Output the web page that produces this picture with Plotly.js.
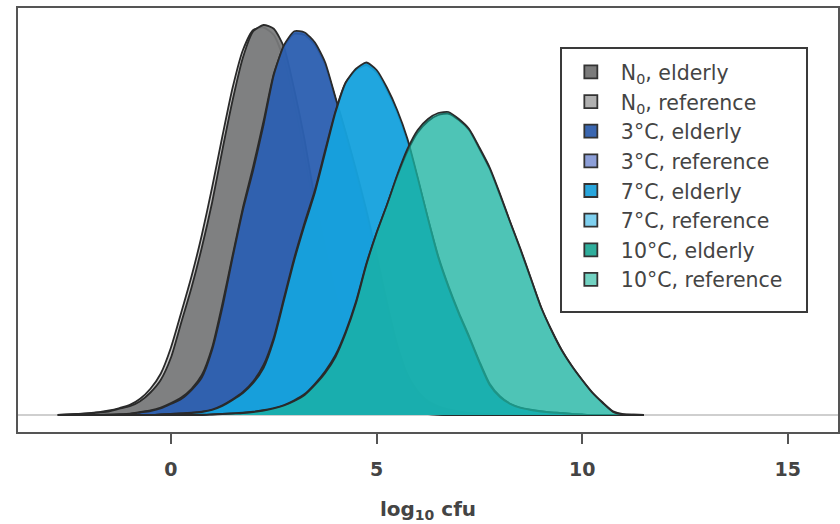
<!DOCTYPE html>
<html>
<head>
<meta charset="utf-8">
<script src="https://cdn.plot.ly/plotly-3.0.1.min.js"></script>
<style>html,body{margin:0;padding:0;background:#fff;}#chart{width:840px;height:524px;}</style>
</head>
<body>
<div id="chart"></div>
<script>
// shared grid of log10 cfu values (-2.75 .. 11.5, step 0.25)
const logCfu = [-2.75,-2.5,-2.25,-2,-1.75,-1.5,-1.25,-1,-0.75,-0.5,-0.25,0,0.25,0.5,0.75,1,1.25,1.5,1.75,2,2.25,2.5,2.75,3,3.25,3.5,3.75,4,4.25,4.5,4.75,5,5.25,5.5,5.75,6,6.25,6.5,6.75,7,7.25,7.5,7.75,8,8.25,8.5,8.75,9,9.25,9.5,9.75,10,10.25,10.5,10.75,11,11.25,11.5];

const seriesNames = ["N<sub>0</sub>, elderly","N<sub>0</sub>, reference","3°C, elderly","3°C, reference","7°C, elderly","7°C, reference","10°C, elderly","10°C, reference"];

const n0Elderly = [0,0.0004,0.0008,0.0012,0.002,0.003,0.005,0.007,0.011,0.018,0.028,0.046,0.074,0.102,0.134,0.170,0.212,0.252,0.286,0.307,0.312,0.309,0.294,0.260,0.220,0.172,0.132,0.096,0.068,0.044,0.028,0.016,0.010,0.006,0.003,0.002,0.001,0.0004,0,0,0,0,0,0,0,0,0,0,0,0,0,0,0,0,0,0,0,0];
const n0Reference = [0.0001,0.0005,0.0009,0.0014,0.0023,0.0036,0.0056,0.0081,0.013,0.021,0.033,0.054,0.082,0.111,0.144,0.182,0.223,0.262,0.292,0.308,0.310,0.304,0.284,0.249,0.207,0.160,0.122,0.088,0.061,0.039,0.025,0.014,0.009,0.005,0.003,0.0015,0.0007,0.0003,0,0,0,0,0,0,0,0,0,0,0,0,0,0,0,0,0,0,0,0];
const c3Elderly = [0,0,0,0,0,0.0002,0.0004,0.0008,0.002,0.0032,0.0052,0.0088,0.0128,0.020,0.030,0.052,0.086,0.126,0.164,0.196,0.232,0.272,0.296,0.307,0.306,0.298,0.282,0.254,0.226,0.196,0.164,0.128,0.090,0.056,0.032,0.018,0.010,0.006,0.004,0.0024,0.0016,0.0008,0.0004,0,0,0,0,0,0,0,0,0,0,0,0,0,0,0];
const c3Reference = [0,0,0,0,0.0001,0.0003,0.0006,0.0011,0.0024,0.0037,0.006,0.0096,0.014,0.021,0.032,0.054,0.089,0.128,0.166,0.199,0.235,0.273,0.295,0.305,0.304,0.296,0.280,0.253,0.225,0.194,0.161,0.125,0.088,0.055,0.032,0.019,0.011,0.007,0.0045,0.0028,0.0017,0.0009,0.0004,0,0,0,0,0,0,0,0,0,0,0,0,0,0,0];
const c7Elderly = [0,0,0,0,0,0,0,0,0,0,0.0004,0.0008,0.0012,0.0016,0.0024,0.004,0.0072,0.012,0.0176,0.0256,0.0376,0.060,0.092,0.124,0.152,0.178,0.210,0.242,0.266,0.277,0.282,0.276,0.262,0.244,0.221,0.190,0.157,0.126,0.102,0.081,0.062,0.042,0.024,0.0144,0.0088,0.0056,0.004,0.0028,0.002,0.0016,0.0008,0.0004,0,0,0,0,0,0];
const c7Reference = [0,0,0,0,0,0,0,0,0,0,0.0005,0.0009,0.0013,0.0018,0.0027,0.0044,0.0078,0.0126,0.0184,0.027,0.040,0.062,0.094,0.126,0.154,0.180,0.212,0.243,0.266,0.276,0.280,0.274,0.260,0.242,0.219,0.189,0.157,0.127,0.103,0.082,0.063,0.043,0.025,0.015,0.009,0.006,0.0042,0.003,0.0021,0.0016,0.0009,0.0004,0,0,0,0,0,0];
const c10Elderly = [0,0,0,0,0,0,0,0,0,0,0,0,0,0,0,0.0004,0.0008,0.0012,0.0016,0.0024,0.0036,0.0052,0.0076,0.0112,0.016,0.024,0.0336,0.0464,0.0656,0.0896,0.120,0.1456,0.168,0.192,0.2128,0.228,0.2368,0.2416,0.2424,0.2368,0.2288,0.214,0.198,0.177,0.1544,0.1328,0.1096,0.0864,0.068,0.052,0.0392,0.028,0.0176,0.0096,0.0024,0.0004,0.0002,0];
const c10Reference = [0,0,0,0,0,0,0,0,0,0,0,0,0,0,0.0002,0.0005,0.0009,0.0013,0.0018,0.0026,0.0039,0.0056,0.008,0.0118,0.0168,0.025,0.035,0.048,0.067,0.091,0.121,0.146,0.168,0.191,0.211,0.226,0.235,0.240,0.241,0.236,0.228,0.213,0.197,0.176,0.154,0.132,0.109,0.086,0.068,0.052,0.039,0.028,0.018,0.010,0.003,0.0006,0.0002,0];

const densities = [n0Elderly,n0Reference,c3Elderly,c3Reference,c7Elderly,c7Reference,c10Elderly,c10Reference];

// fill colours used on the plot, and legend swatch colours
const fillColors = ["rgba(120,122,123,0.92)","rgba(150,150,150,0.5)","rgba(42,94,176,0.92)","rgba(100,130,200,0.5)","rgba(19,161,220,0.92)","rgba(90,190,235,0.5)","rgba(13,174,155,0.55)","rgba(60,190,175,0.5)"];
const swatchColors = ["#7b7b7b","#b0b0b0","#3a66b0","#8d9fd8","#29a6dc","#7fd0ef","#2fae9c","#72d2c2"];
// drawing order: within each group reference first, then elderly
const drawOrder = [1,0,3,2,5,4,7,6];

const traces = [];
drawOrder.forEach(i => {
  traces.push({
    x: logCfu, y: densities[i], type: 'scatter', mode: 'lines',
    line: {color: '#2a2a2a', width: 1.8, shape: 'spline', smoothing: 0.6},
    fill: 'tozeroy', fillcolor: fillColors[i],
    showlegend: false, hoverinfo: 'skip'
  });
});
seriesNames.forEach((name, i) => {
  traces.push({
    x: [null], y: [null], type: 'scatter', mode: 'markers', name: name,
    marker: {symbol: 'square', size: 13, color: swatchColors[i], line: {color: '#333', width: 1.8}},
    showlegend: true
  });
});

const layout = {
  width: 840, height: 524,
  margin: {l: 18, r: 2, t: 8, b: 92},
  paper_bgcolor: '#fff', plot_bgcolor: '#fff',
  font: {family: 'DejaVu Sans, Liberation Sans, Arial, sans-serif', color: '#444'},
  xaxis: {
    range: [-3.72, 16.22], tickvals: [0, 5, 10, 15], ticktext: ['0', '5', '10', '15'],
    ticks: 'outside', ticklen: 10, tickwidth: 2, tickcolor: '#555',
    ticklabelstandoff: 9,
    tickfont: {size: 19, color: '#444', weight: 'bold'},
    showline: true, mirror: true, linecolor: '#555', linewidth: 2,
    showgrid: false, zeroline: false,
    title: {text: 'log<sub>10</sub> cfu', font: {size: 20, color: '#444', weight: 'bold'}, standoff: 23}
  },
  yaxis: {
    range: [-0.0136, 0.3256], showticklabels: false, ticks: '',
    showline: true, mirror: true, linecolor: '#555', linewidth: 2,
    showgrid: false, zeroline: true, zerolinecolor: '#cfcfcf', zerolinewidth: 1.5
  },
  shapes: [{
    type: 'rect', xref: 'paper', yref: 'paper',
    x0: 0.6622, x1: 0.9622, y0: 0.283, y1: 0.9057,
    line: {color: '#3a3a3a', width: 2}, fillcolor: '#fff', layer: 'above'
  }],
  legend: {
    x: 0.662, y: 0.896, xanchor: 'left', yanchor: 'top',
    bgcolor: 'rgba(0,0,0,0)', borderwidth: 0,
    font: {size: 20.5, color: '#444'},
    itemwidth: 50
  }
};

Plotly.newPlot('chart', traces, layout, {displayModeBar: false, staticPlot: true});
</script>
</body>
</html>
